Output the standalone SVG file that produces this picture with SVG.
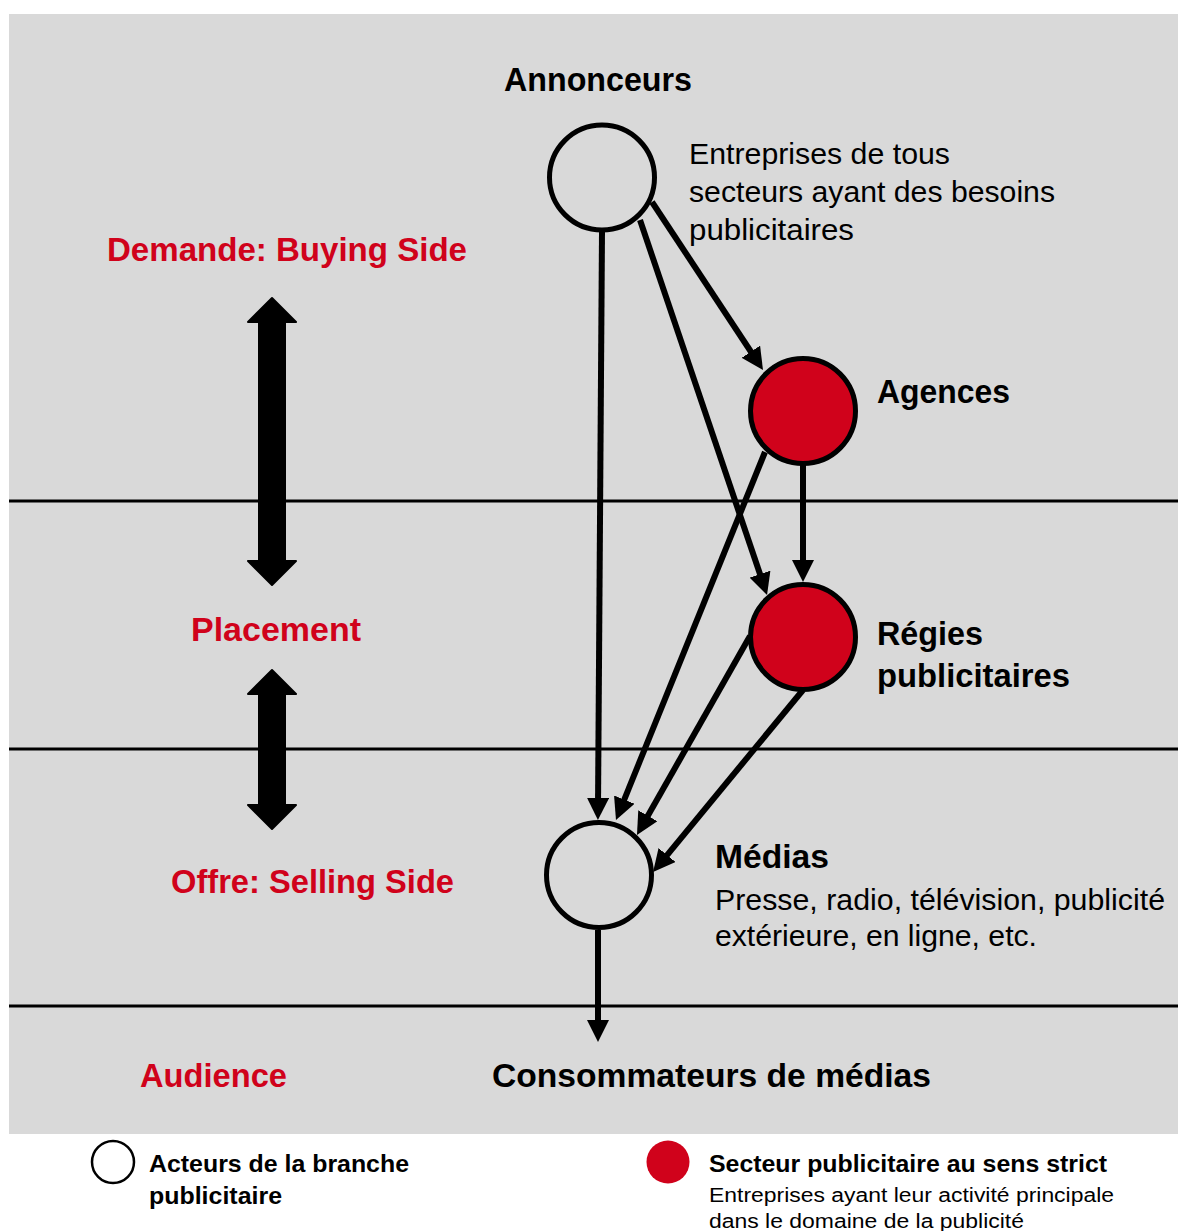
<svg xmlns="http://www.w3.org/2000/svg" width="1178" height="1231" viewBox="0 0 1178 1231">
<style>
.bg{fill:#d9d9d9}
.sep{stroke:#000;stroke-width:3}
.node{stroke:#000;stroke-width:5}
.white{fill:#d9d9d9}
.red{fill:#d0021b}
.edge{stroke:#000;stroke-width:6;fill:none;marker-end:url(#ah)}
.t{font-family:"Liberation Sans",Arial,sans-serif;fill:#000}
.b{font-weight:bold}
.h{font-size:33px}
.r{font-size:30px}
.lr{fill:#d0021b}
.lg{font-size:24px}
.ls{font-size:20px}
.dbl{fill:#000;stroke:#000;stroke-width:2;stroke-linejoin:round}
</style>
<defs>
<marker id="ah" markerUnits="userSpaceOnUse" markerWidth="22" markerHeight="22" viewBox="0 0 22 22" refX="10" refY="11" orient="auto">
<path d="M0,0 L22,11 L0,22 z" fill="#000"/>
</marker>
</defs>
<rect class="bg" x="9" y="14" width="1169" height="1120"/>
<g id="separators">
<line class="sep" x1="9" y1="501" x2="1178" y2="501"/>
<line class="sep" x1="9" y1="749" x2="1178" y2="749"/>
<line class="sep" x1="9" y1="1006" x2="1178" y2="1006"/>
</g>
<g id="sides">
<text class="t b h lr" x="107" y="261" textLength="360" lengthAdjust="spacingAndGlyphs">Demande: Buying Side</text>
<text class="t b h lr" x="191" y="641" textLength="170" lengthAdjust="spacingAndGlyphs">Placement</text>
<text class="t b h lr" x="171" y="893" textLength="283" lengthAdjust="spacingAndGlyphs">Offre: Selling Side</text>
<text class="t b h lr" x="140" y="1087" textLength="147" lengthAdjust="spacingAndGlyphs">Audience</text>
<polygon class="dbl" points="272,298 296,322 285,322 285,561 296,561 272,585 248,561 259,561 259,322 248,322"/>
<polygon class="dbl" points="272,670 296,694 285,694 285,805 296,805 272,829 248,805 259,805 259,694 248,694"/>
</g>
<g id="connectors">
<line class="edge" x1="602" y1="232" x2="598" y2="808"/>
<line class="edge" x1="640" y1="220" x2="763.2" y2="583.6"/>
<line class="edge" x1="652" y1="202" x2="756.4" y2="360"/>
<line class="edge" x1="803" y1="464" x2="803" y2="570"/>
<line class="edge" x1="765" y1="452" x2="620.5" y2="808.9"/>
<line class="edge" x1="750" y1="636" x2="642.9" y2="824.5"/>
<line class="edge" x1="803" y1="690" x2="660.7" y2="862.8"/>
<line class="edge" x1="598" y1="930" x2="598" y2="1030"/>
</g>
<g id="annonceurs">
<circle class="node white" cx="602" cy="177.5" r="52.5"/>
<text class="t b h" x="504" y="91" textLength="188" lengthAdjust="spacingAndGlyphs">Annonceurs</text>
<text class="t r" x="689" y="164" textLength="261" lengthAdjust="spacingAndGlyphs">Entreprises de tous</text>
<text class="t r" x="689" y="202" textLength="366" lengthAdjust="spacingAndGlyphs">secteurs ayant des besoins</text>
<text class="t r" x="689" y="240" textLength="165" lengthAdjust="spacingAndGlyphs">publicitaires</text>
</g>
<g id="agences">
<circle class="node red" cx="803" cy="411" r="52.5"/>
<text class="t b h" x="877" y="403" textLength="133" lengthAdjust="spacingAndGlyphs">Agences</text>
</g>
<g id="regies">
<circle class="node red" cx="803" cy="637" r="52.5"/>
<text class="t b h" x="877" y="645" textLength="106" lengthAdjust="spacingAndGlyphs">Régies</text>
<text class="t b h" x="877" y="687" textLength="193" lengthAdjust="spacingAndGlyphs">publicitaires</text>
</g>
<g id="medias">
<circle class="node white" cx="599" cy="875" r="52.5"/>
<text class="t b h" x="715" y="868" textLength="114" lengthAdjust="spacingAndGlyphs">Médias</text>
<text class="t r" x="715" y="910" textLength="450" lengthAdjust="spacingAndGlyphs">Presse, radio, télévision, publicité</text>
<text class="t r" x="715" y="946" textLength="322" lengthAdjust="spacingAndGlyphs">extérieure, en ligne, etc.</text>
</g>
<g id="consommateurs">
<text class="t b h" x="492" y="1087" textLength="439" lengthAdjust="spacingAndGlyphs">Consommateurs de médias</text>
</g>
<g id="legend">
<circle cx="113" cy="1162" r="21" fill="#fff" stroke="#000" stroke-width="2.5"/>
<text class="t b lg" x="149" y="1172" textLength="260" lengthAdjust="spacingAndGlyphs">Acteurs de la branche</text>
<text class="t b lg" x="149" y="1204" textLength="133" lengthAdjust="spacingAndGlyphs">publicitaire</text>
<circle cx="668" cy="1162" r="21.5" fill="#d0021b"/>
<text class="t b lg" x="709" y="1172" textLength="398" lengthAdjust="spacingAndGlyphs">Secteur publicitaire au sens strict</text>
<text class="t ls" x="709" y="1202" textLength="405" lengthAdjust="spacingAndGlyphs">Entreprises ayant leur activité principale</text>
<text class="t ls" x="709" y="1228" textLength="315" lengthAdjust="spacingAndGlyphs">dans le domaine de la publicité</text>
</g>
</svg>
